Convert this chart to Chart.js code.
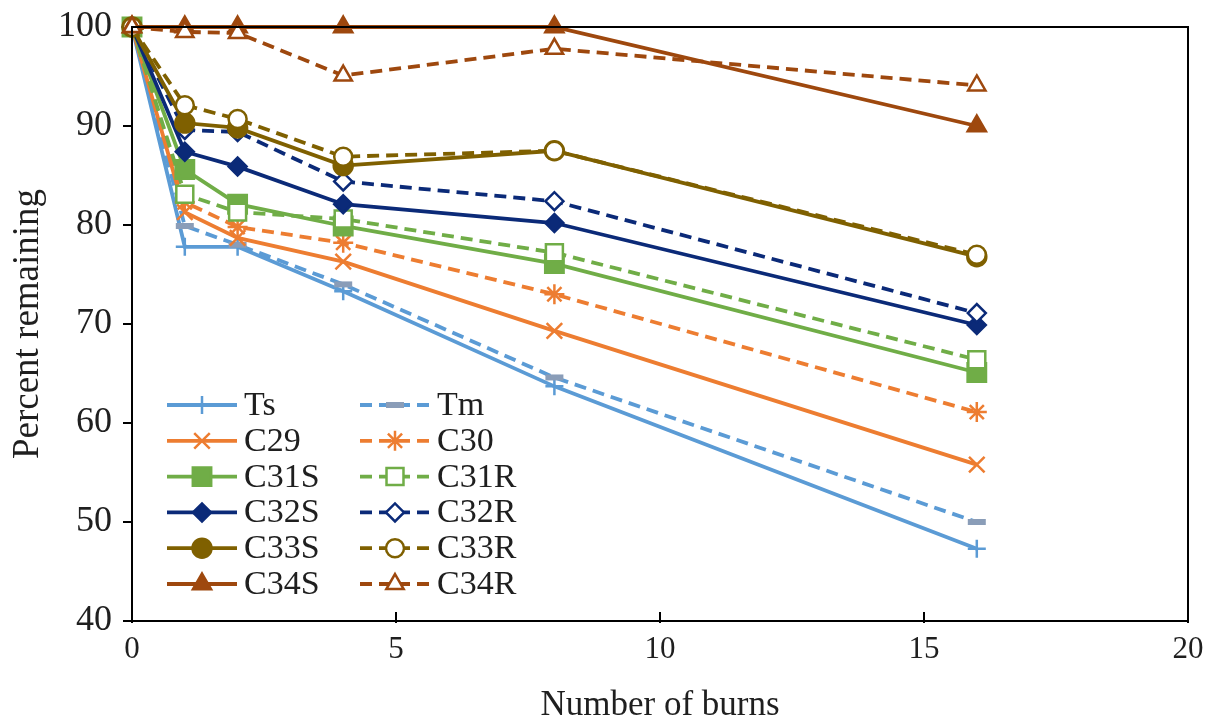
<!DOCTYPE html>
<html>
<head>
<meta charset="utf-8">
<script src="https://cdn.jsdelivr.net/npm/chart.js@4.4.1/dist/chart.umd.min.js"></script>
<style>
  html, body { margin: 0; padding: 0; background: #ffffff; }
  #wrap { width: 1207px; height: 723px; }
</style>
</head>
<body>
<div id="wrap"><canvas id="chart" width="1207" height="723"></canvas></div>
<script>
// Number of burns at which each compound was measured
const burns = [0, 1, 2, 4, 8, 16];

// Percent of each compound remaining after the burns
const ts   = [100, 77.8, 77.8, 73.3, 63.7, 47.3];
const tm   = [100, 79.9, 78.0, 74.0, 64.6, 50.0];
const c29  = [100, 81.3, 78.7, 76.3, 69.3, 55.8];
const c30  = [100, 82.3, 79.8, 78.2, 73.0, 61.1];
const c31s = [100, 85.6, 82.1, 79.9, 76.1, 65.1];
const c31r = [100, 83.1, 81.3, 80.6, 77.2, 66.4];
const c32s = [100, 87.4, 85.9, 82.1, 80.2, 69.9];
const c32r = [100, 89.6, 89.4, 84.4, 82.4, 71.1];
const c33s = [100, 90.3, 89.8, 86.0, 87.5, 76.8];
const c33r = [100, 92.1, 90.7, 86.9, 87.5, 77.0];
const c34s = [100, 100, 100, 100, 100, 90.0];
const c34r = [100, 99.5, 99.4, 95.1, 97.8, 94.1];

const seriesNames = ['Ts', 'Tm', 'C29', 'C30', 'C31S', 'C31R', 'C32S', 'C32R', 'C33S', 'C33R', 'C34S', 'C34R'];
const seriesValues = [ts, tm, c29, c30, c31s, c31r, c32s, c32r, c33s, c33r, c34s, c34r];

// Axis tick values
const xTickValues = [0, 5, 10, 15, 20];
const yTickValues = [40, 50, 60, 70, 80, 90, 100];

// Look of each series: colour, marker, fill, dashed or solid
const BLUE = '#5B9BD5', ORANGE = '#ED7D31', GREEN = '#70AD47', NAVY = '#0B2A78', OLIVE = '#7F6000', BROWN = '#9E480E';
const DASH = [12, 7];
const looks = [
  { color: BLUE,   point: 'cross',    radius: 9,  fill: BLUE,    dash: [],   pointColor: BLUE },
  { color: BLUE,   point: 'line',     radius: 9,  fill: BLUE,    dash: DASH, pointColor: '#8A9DB8', pointWidth: 6 },
  { color: ORANGE, point: 'crossRot', radius: 11, fill: ORANGE,  dash: [] },
  { color: ORANGE, point: 'star',     radius: 10, fill: ORANGE,  dash: DASH },
  { color: GREEN,  point: 'rect',     radius: 13, fill: GREEN,   dash: [] },
  { color: GREEN,  point: 'rect',     radius: 12, fill: '#ffffff', dash: DASH },
  { color: NAVY,   point: 'rectRot',  radius: 9,  fill: NAVY,    dash: [] },
  { color: NAVY,   point: 'rectRot',  radius: 9,  fill: '#ffffff', dash: DASH },
  { color: OLIVE,  point: 'circle',   radius: 9.5,fill: OLIVE,   dash: [] },
  { color: OLIVE,  point: 'circle',   radius: 9,  fill: '#ffffff', dash: DASH },
  { color: BROWN,  point: 'triangle', radius: 10.5, fill: BROWN, dash: [] },
  { color: BROWN,  point: 'triangle', radius: 10, fill: '#ffffff', dash: DASH }
];

const SERIF = "'Liberation Serif', 'Times New Roman', serif";
const TEXT = '#1f1f1f';

const datasets = seriesNames.map((name, i) => {
  const lk = looks[i];
  return {
    label: name,
    data: burns.map((b, j) => ({ x: b, y: seriesValues[i][j] })),
    borderColor: lk.color,
    backgroundColor: lk.fill,
    borderWidth: 3.8,
    borderDash: lk.dash,
    pointStyle: lk.point,
    pointRadius: lk.radius,
    pointHoverRadius: lk.radius,
    pointBorderColor: lk.pointColor || lk.color,
    pointBackgroundColor: lk.fill,
    pointBorderWidth: lk.pointWidth || 2.5,
    tension: 0,
    clip: false,
    order: seriesNames.length - i
  };
});

// Box around the plot area and inward tick marks on the x axis
const frame = {
  id: 'frame',
  afterDraw(chart) {
    const { ctx, chartArea: a } = chart;
    const xs = chart.scales.x;
    ctx.save();
    ctx.strokeStyle = '#000000';
    ctx.lineWidth = 2;
    ctx.strokeRect(a.left, a.top, a.right - a.left, a.bottom - a.top);
    ctx.beginPath();
    xTickValues.forEach(v => {
      const px = xs.getPixelForValue(v);
      ctx.moveTo(px, a.bottom + 2);
      ctx.lineTo(px, a.bottom - 9);
    });
    ctx.stroke();
    ctx.restore();
  }
};

// Two-column legend inside the plot
const insetLegend = {
  id: 'insetLegend',
  afterDraw(chart) {
    const ctx = chart.ctx;
    const colX = [167, 360];
    const lineLen = 70;
    const top = 405, rowGap = 35.8;
    ctx.save();
    chart.data.datasets.forEach((ds, i) => {
      const col = i % 2, row = Math.floor(i / 2);
      const x0 = colX[col], y = top + row * rowGap;
      ctx.strokeStyle = ds.borderColor;
      ctx.lineWidth = ds.borderWidth;
      ctx.setLineDash(ds.borderDash);
      ctx.beginPath();
      ctx.moveTo(x0, y);
      ctx.lineTo(x0 + lineLen, y);
      ctx.stroke();
      ctx.setLineDash([]);
      ctx.fillStyle = ds.pointBackgroundColor;
      ctx.strokeStyle = ds.pointBorderColor;
      ctx.lineWidth = ds.pointBorderWidth;
      Chart.helpers.drawPoint(ctx, {
        pointStyle: ds.pointStyle,
        radius: ds.pointRadius,
        borderWidth: ds.pointBorderWidth,
        rotation: 0
      }, x0 + lineLen / 2, y);
      ctx.fillStyle = TEXT;
      ctx.font = '34px ' + SERIF;
      ctx.textAlign = 'left';
      ctx.textBaseline = 'middle';
      ctx.fillText(ds.label, x0 + lineLen + 7, y + 1);
    });
    ctx.restore();
  }
};

new Chart(document.getElementById('chart'), {
  type: 'line',
  data: { datasets },
  options: {
    responsive: false,
    animation: false,
    devicePixelRatio: 1,
    layout: { padding: { top: 27, right: 19, left: 0, bottom: 0 } },
    plugins: {
      legend: { display: false },
      tooltip: { enabled: false }
    },
    scales: {
      x: {
        type: 'linear',
        min: 0,
        max: 20,
        afterBuildTicks: s => { s.ticks = xTickValues.map(v => ({ value: v })); },
        afterFit: s => { s.height = 102; s.paddingLeft = 0; s.paddingRight = 0; },
        grid: { display: false, drawTicks: false },
        border: { display: false },
        ticks: {
          padding: 13,
          color: TEXT,
          font: { family: SERIF, size: 31, lineHeight: 1 },
          maxRotation: 0
        },
        title: {
          display: true,
          text: 'Number of burns',
          color: TEXT,
          font: { family: SERIF, size: 35, lineHeight: 1 },
          padding: { top: 0, bottom: 0 }
        }
      },
      y: {
        type: 'linear',
        min: 40,
        max: 100,
        afterBuildTicks: s => { s.ticks = yTickValues.map(v => ({ value: v })); },
        afterFit: s => { s.width = 132; s.paddingTop = 0; s.paddingBottom = 0; },
        grid: { drawOnChartArea: false, drawTicks: true, tickLength: 9, color: '#000000', lineWidth: 2 },
        border: { display: false },
        ticks: {
          padding: 11,
          color: TEXT,
          font: { family: SERIF, size: 36, lineHeight: 1 }
        },
        title: {
          display: true,
          text: 'Percent remaining',
          color: TEXT,
          font: { family: SERIF, size: 37, lineHeight: 1 },
          padding: { top: 10, bottom: 0 }
        }
      }
    }
  },
  plugins: [frame, insetLegend]
});
</script>
</body>
</html>
